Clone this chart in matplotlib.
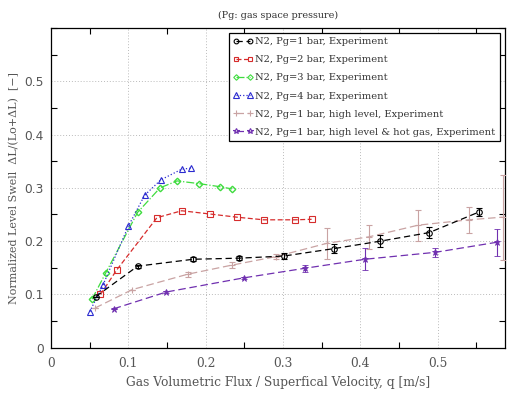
import matplotlib
matplotlib.use("Agg")
import matplotlib.pyplot as plt
from matplotlib.lines import Line2D
from matplotlib.ticker import MultipleLocator

# N2, Pg = 1 bar
q_pg1 = [0.058, 0.112, 0.184, 0.243, 0.301, 0.366, 0.426, 0.489, 0.554]
s_pg1 = [0.096, 0.153, 0.166, 0.168, 0.172, 0.186, 0.200, 0.216, 0.255]
e_pg1 = [0.000, 0.003, 0.004, 0.004, 0.005, 0.0085, 0.011, 0.011, 0.008]

# N2, Pg = 2 bar
q_pg2 = [0.064, 0.085, 0.137, 0.169, 0.205, 0.240, 0.275, 0.316, 0.337]
s_pg2 = [0.100, 0.146, 0.244, 0.257, 0.251, 0.245, 0.240, 0.240, 0.241]

# N2, Pg = 3 bar
q_pg3 = [0.053, 0.071, 0.112, 0.141, 0.163, 0.191, 0.219, 0.234]
s_pg3 = [0.091, 0.141, 0.254, 0.300, 0.313, 0.308, 0.302, 0.298]

# N2, Pg = 4 bar
q_pg4 = [0.050, 0.067, 0.100, 0.121, 0.142, 0.169, 0.181]
s_pg4 = [0.0675, 0.117, 0.228, 0.286, 0.315, 0.335, 0.337]

# N2, Pg = 1 bar, high level
q_high = [0.057, 0.105, 0.177, 0.234, 0.291, 0.357, 0.411, 0.475, 0.540, 0.584]
s_high = [0.0745, 0.109, 0.138, 0.155, 0.171, 0.196, 0.208, 0.230, 0.240, 0.245]
e_high = [0.000, 0.000, 0.005, 0.006, 0.004, 0.029, 0.023, 0.029, 0.024, 0.080]

# N2, Pg = 1 bar, high level & hot gas
q_hot = [0.081, 0.149, 0.249, 0.328, 0.406, 0.497, 0.577]
s_hot = [0.073, 0.1045, 0.131, 0.149, 0.166, 0.179, 0.198]
e_hot = [0.000, 0.002, 0.002, 0.006, 0.021, 0.008, 0.025]

labels = [
    "N2, Pg=1 bar, Experiment",
    "N2, Pg=2 bar, Experiment",
    "N2, Pg=3 bar, Experiment",
    "N2, Pg=4 bar, Experiment",
    "N2, Pg=1 bar, high level, Experiment",
    "N2, Pg=1 bar, high level & hot gas, Experiment",
]

serif = "DejaVu Serif"
txt_color = "#555555"

# style per series: color, linestyle, marker, markersize
styles = [
    ("black", (0, (5, 3)), "o", 4),
    ("#d62c2c", (0, (4, 2)), "s", 4),
    ("#3fdc3f", "-.", "D", 3.3),
    ("#2b2bd0", ":", "^", 4.5),
    ("#c9a3a3", (0, (6, 3)), "+", 5),
    ("#7030b0", (0, (6, 3)), "*", 4.5),
]

fig = plt.figure(figsize=(5.08, 3.94), dpi=100)
ax = fig.add_axes([0.1004, 0.1175, 0.8936, 0.8115])

c, ls, m, ms = styles[0]
ax.errorbar(q_pg1, s_pg1, yerr=e_pg1, color=c, linestyle=ls,
            marker=m, markersize=ms, markerfacecolor="none", markeredgewidth=0.8,
            linewidth=0.9, capsize=2, elinewidth=0.8, zorder=5)
c, ls, m, ms = styles[1]
ax.plot(q_pg2, s_pg2, color=c, linestyle=ls,
        marker=m, markersize=ms, markerfacecolor="none", markeredgewidth=0.8,
        linewidth=0.9, zorder=4)
c, ls, m, ms = styles[2]
ax.plot(q_pg3, s_pg3, color=c, linestyle=ls,
        marker=m, markersize=ms, markerfacecolor="none", markeredgewidth=1.0,
        linewidth=0.9, zorder=4)
c, ls, m, ms = styles[3]
ax.plot(q_pg4, s_pg4, color=c, linestyle=ls,
        marker=m, markersize=ms, markerfacecolor="none", markeredgewidth=0.8,
        linewidth=0.9, zorder=4)
c, ls, m, ms = styles[4]
ax.errorbar(q_high, s_high, yerr=e_high, color=c, linestyle=ls,
            marker=m, markersize=ms, markeredgewidth=0.8,
            linewidth=0.9, capsize=2.5, elinewidth=0.8, zorder=3)
c, ls, m, ms = styles[5]
ax.errorbar(q_hot, s_hot, yerr=e_hot, color=c, linestyle=ls,
            marker=m, markersize=ms, markeredgewidth=0.6,
            linewidth=0.9, capsize=2, elinewidth=0.8, zorder=3)

ax.set_xlim(0, 0.587)
ax.set_ylim(0, 0.6)

ax.xaxis.set_minor_locator(MultipleLocator(0.05))
ax.yaxis.set_minor_locator(MultipleLocator(0.05))
ax.set_xticks([0, 0.1, 0.2, 0.3, 0.4, 0.5])
ax.set_xticklabels(["0", "0.1", "0.2", "0.3", "0.4", "0.5"])
ax.set_yticks([0, 0.1, 0.2, 0.3, 0.4, 0.5])
ax.set_yticklabels(["0", "0.1", "0.2", "0.3", "0.4", "0.5"])
ax.tick_params(which="major", length=0, labelsize=8.8, colors=txt_color)
ax.tick_params(axis="x", which="major", pad=7)
ax.tick_params(axis="y", which="major", pad=5)
ax.tick_params(which="minor", direction="in", length=4, width=0.8,
               top=True, right=True, color="black")
for lab in ax.get_xticklabels():
    lab.set_fontfamily(serif)
for lab in ax.get_yticklabels():
    lab.set_fontfamily("DejaVu Sans")

ax.grid(True, which="major", linestyle=(0, (1, 2)), color="#bbbbbb", linewidth=0.7)
for sp in ax.spines.values():
    sp.set_linewidth(0.9)

ax.set_xlabel("Gas Volumetric Flux / Superfical Velocity, q [m/s]",
              fontsize=8.8, family=serif, color=txt_color, labelpad=4)
ax.set_ylabel("Normalized Level Swell  \u0394L/(Lo+\u0394L)  [\u2212]",
              fontsize=8, family=serif, color=txt_color, labelpad=4)
ax.set_title("(Pg: gas space pressure)", fontsize=6.9, family=serif,
             color="#333333", pad=7)

handles = []
for c, ls, m, ms in styles:
    handles.append(Line2D([], [], color=c, linestyle=ls, marker=m, markersize=ms * 0.85,
                          markerfacecolor="none", markeredgewidth=0.8, linewidth=0.9))
leg = ax.legend(handles, labels, loc="upper right", numpoints=2,
                prop={"family": serif, "size": 7.1},
                fancybox=False, framealpha=1, edgecolor="black",
                handlelength=2.0, handletextpad=0.3, borderaxespad=0.55,
                labelspacing=0.92, borderpad=0.4)
leg.get_frame().set_linewidth(0.9)
for t in leg.get_texts():
    t.set_color("#333333")

fig.savefig("out.png", dpi=100)
